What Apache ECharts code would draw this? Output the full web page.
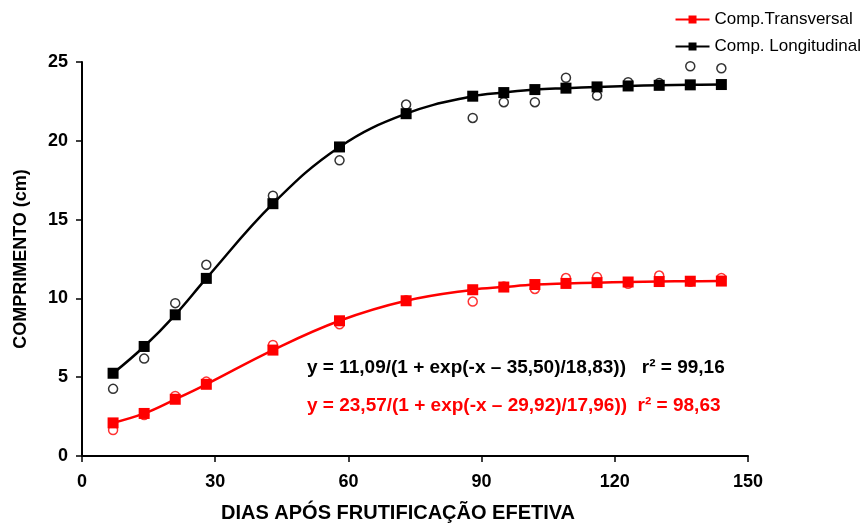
<!DOCTYPE html>
<html>
<head>
<meta charset="utf-8">
<script src="https://cdn.jsdelivr.net/npm/echarts@6/dist/echarts.min.js"></script>
<style>
  html, body { margin: 0; padding: 0; background: #fff; }
  #chart { width: 866px; height: 523px; }
</style>
</head>
<body>
<div id="chart"></div>
<script>
// dias após frutificação
var days = [7, 14, 21, 28, 43, 58, 73, 88, 95, 102, 109, 116, 123, 130, 137, 144];

// valores ajustados (quadrados)
var longFit = [5.25, 6.95, 8.96, 11.27, 16.01, 19.61, 21.72, 22.83, 23.06, 23.25, 23.34, 23.42, 23.48, 23.52, 23.55, 23.57];
var transFit = [2.1, 2.7, 3.6, 4.55, 6.72, 8.58, 9.85, 10.55, 10.72, 10.88, 10.95, 11.0, 11.04, 11.07, 11.09, 11.1];

// valores observados (círculos)
var longObs = [4.26, 6.18, 9.7, 12.13, 16.52, 18.76, 22.3, 21.45, 22.45, 22.45, 24.0, 22.87, 23.72, 23.66, 24.73, 24.6];
var transObs = [1.65, 2.6, 3.81, 4.72, 7.05, 8.36, 9.88, 9.8, 10.75, 10.6, 11.29, 11.35, 10.93, 11.45, 11.05, 11.3];

var xTicks = [0, 30, 60, 90, 120, 150];
var yTicks = [0, 5, 10, 15, 20, 25];

function pairs(xs, ys) {
    return xs.map(function (x, i) { return [x, ys[i]]; });
}

var chart = echarts.init(document.getElementById('chart'));
var font = 'Liberation Sans, Arial, sans-serif';

chart.setOption({
    animation: false,
    legend: {
        orient: 'vertical',
        right: 0,
        top: 6,
        itemWidth: 34,
        itemHeight: 10,
        itemGap: 10,
        textStyle: { fontFamily: font, fontSize: 17, color: '#000' },
        data: ['Comp.Transversal', 'Comp. Longitudinal']
    },
    grid: { left: 82, right: 118, top: 62, bottom: 67, containLabel: false, outerBoundsMode: 'none' },
    xAxis: {
        type: 'value',
        min: xTicks[0],
        max: xTicks[xTicks.length - 1],
        interval: 30,
        name: 'DIAS APÓS FRUTIFICAÇÃO EFETIVA',
        nameLocation: 'middle',
        nameGap: 47,
        nameTextStyle: { fontFamily: font, fontSize: 20, fontWeight: 'bold', color: '#000', padding: [0, 34, 0, 0] },
        axisLine: { lineStyle: { color: '#000', width: 2 } },
        axisTick: { show: true, length: 6, lineStyle: { color: '#000', width: 1.5 } },
        axisLabel: { fontFamily: font, fontSize: 18, fontWeight: 'bold', color: '#000', margin: 17 },
        splitLine: { show: false }
    },
    yAxis: {
        type: 'value',
        min: yTicks[0],
        max: yTicks[yTicks.length - 1],
        interval: 5,
        name: 'COMPRIMENTO (cm)',
        nameLocation: 'middle',
        nameGap: 52,
        nameTextStyle: { fontFamily: font, fontSize: 18, fontWeight: 'bold', color: '#000' },
        axisLine: { show: true, lineStyle: { color: '#000', width: 2 } },
        axisTick: { show: true, length: 6, lineStyle: { color: '#000', width: 1.5 } },
        axisLabel: { fontFamily: font, fontSize: 18, fontWeight: 'bold', color: '#000', margin: 14 },
        splitLine: { show: false }
    },
    series: [
        {
            name: 'obs longitudinal',
            type: 'scatter',
            symbol: 'circle',
            symbolSize: 9,
            itemStyle: { color: '#fff', borderColor: '#000', borderWidth: 1.5 },
            data: pairs(days, longObs),
            z: 1
        },
        {
            name: 'obs transversal',
            type: 'scatter',
            symbol: 'circle',
            symbolSize: 9,
            itemStyle: { color: '#fff', borderColor: '#ff0000', borderWidth: 1.5 },
            data: pairs(days, transObs),
            z: 1
        },
        {
            name: 'Comp.Transversal',
            type: 'line',
            smooth: 0.4,
            symbol: 'rect',
            symbolSize: 11,
            showAllSymbol: true,
            lineStyle: { color: '#ff0000', width: 2.5 },
            itemStyle: { color: '#ff0000' },
            data: pairs(days, transFit),
            z: 3
        },
        {
            name: 'Comp. Longitudinal',
            type: 'line',
            smooth: 0.4,
            symbol: 'rect',
            symbolSize: 11,
            showAllSymbol: true,
            lineStyle: { color: '#000', width: 2.5 },
            itemStyle: { color: '#000' },
            data: pairs(days, longFit),
            z: 3
        }
    ],
    graphic: [
        {
            type: 'text',
            left: 307,
            top: 358,
            style: {
                text: 'y = 11,09/(1 + exp(-x – 35,50)/18,83))   r² = 99,16',
                font: 'bold 19px ' + font,
                fill: '#000'
            }
        },
        {
            type: 'text',
            left: 307,
            top: 396,
            style: {
                text: 'y = 23,57/(1 + exp(-x – 29,92)/17,96))  r² = 98,63',
                font: 'bold 19px ' + font,
                fill: '#ff0000'
            }
        }
    ]
});
</script>
</body>
</html>
